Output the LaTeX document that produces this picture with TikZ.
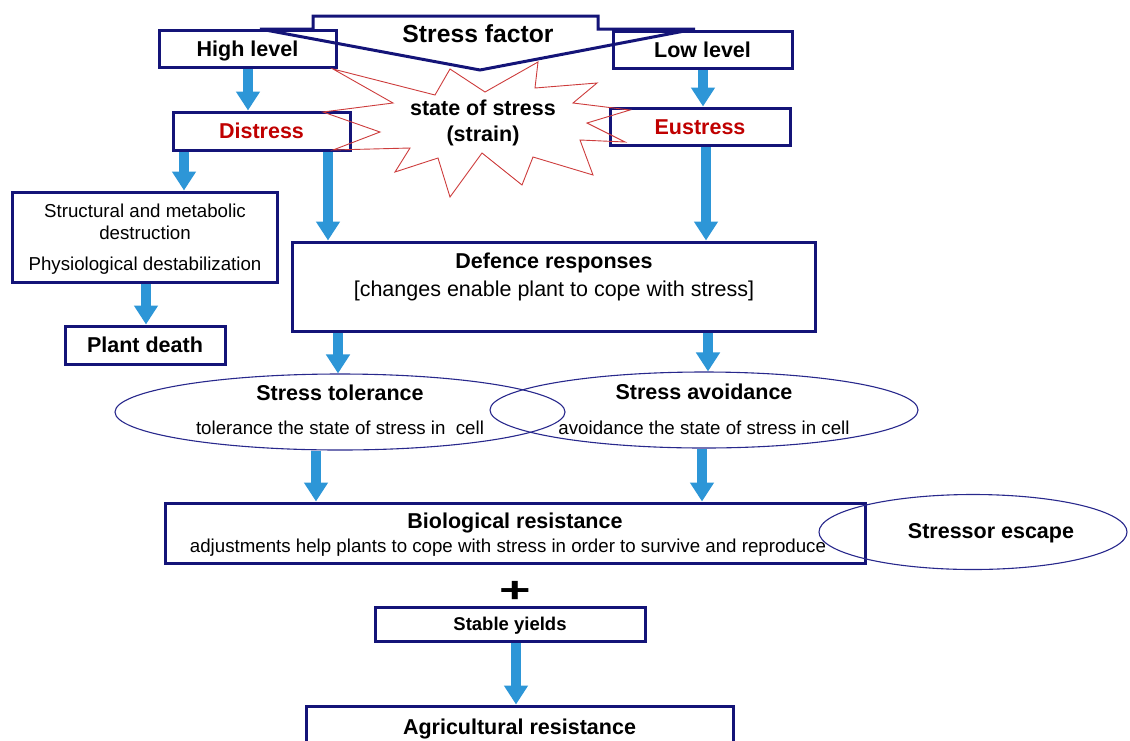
\documentclass[tikz,border=0pt]{standalone}
\usepackage{fontspec}
\setmainfont{Liberation Sans}
\usetikzlibrary{arrows.meta,shapes.geometric}
\pgfdeclarelayer{bg}
\pgfsetlayers{bg,main}
\definecolor{navy}{RGB}{20,20,120}
\definecolor{ablue}{RGB}{45,150,215}
\definecolor{dred}{RGB}{192,0,0}
\definecolor{sred}{RGB}{205,60,60}
\definecolor{ell}{RGB}{40,40,140}
\begin{document}
\begin{tikzpicture}[x=1pt,y=-1pt,
  box/.style={draw=navy, line width=3pt, fill=white, inner sep=0pt},
  bt/.style={font=\bfseries\fontsize{21.5}{24}\selectfont, text height=15.4pt, text depth=0pt, inner sep=0pt},
  rt/.style={font=\fontsize{18.7}{22}\selectfont, text height=13.4pt, text depth=0pt, inner sep=0pt},
  oval/.style={ellipse, draw=ell, line width=1.1pt, inner sep=0pt},
  barrow/.style={draw=ablue, line width=10pt, -{Triangle[length=19pt,width=23pt]}},
]
\useasboundingbox (0,0) rectangle (1130,740);

% boxes
\node[box, bt, minimum width=177pt, minimum height=37pt] (hl) at (247.5,49) {High level};
\node[box, bt, minimum width=179pt, minimum height=37pt] (ll) at (702.5,49.5) {Low level};
\node[box, bt, text=dred, minimum width=177pt, minimum height=38pt] (dis) at (261.5,131) {Distress};
\node[box, bt, text=dred, minimum width=180pt, minimum height=37pt] (eu) at (700,126.5) {Eustress};
\node[box, minimum width=265pt, minimum height=90pt] (str) at (144.5,237) {};
\node[rt] (str1) at (145,211) {Structural and metabolic};
\node[rt] (str2) at (145,233) {destruction};
\node[rt] (str3) at (145,264) {Physiological destabilization};
\node[box, bt, minimum width=160pt, minimum height=38pt] (pd) at (145,345) {Plant death};
\node[box, minimum width=523pt, minimum height=89pt] (def) at (553.5,286.5) {};
\node[bt] (def1) at (554,261) {Defence responses};
\node[rt, font=\fontsize{21.5}{24}\selectfont, text height=15.4pt] (def2) at (554,289) {[changes enable plant to cope with stress]};

% ellipses
\node[oval, minimum width=450pt, minimum height=76pt] (tol) at (340,412) {};
\node[bt] (tol1) at (340,393) {Stress tolerance};
\node[rt] (tol2) at (340,428) {tolerance the state of stress in~ cell};
\node[oval, minimum width=428pt, minimum height=76pt] (avo) at (704,410) {};
\node[bt] (avo1) at (704,392) {Stress avoidance};
\node[rt] (avo2) at (704,428) {avoidance the state of stress in cell};

\node[box, minimum width=700pt, minimum height=60pt] (bio) at (515,533) {};
\node[bt] (bio1) at (515,521) {Biological resistance};
\node[rt] (bio2) at (508,546) {adjustments help plants to cope with stress in order to survive and reproduce};
\node[oval, minimum width=308pt, minimum height=75pt] (esc) at (973,532) {};
\node[bt] (esc1) at (991,531) {Stressor escape};

\node[font=\bfseries\fontsize{36}{36}\selectfont, inner sep=0pt, anchor=base] (plus) at (515,602) {\scalebox{1.5}[1]{+}};
\node[box, font=\bfseries\fontsize{18.5}{22}\selectfont, text height=13.2pt, text depth=0pt, minimum width=270pt, minimum height=34pt] (sy) at (510,624) {Stable yields};
\node[box, bt, minimum width=427pt, minimum height=42pt] (ag) at (519.5,727) {Agricultural resistance};

% stress factor shape
\draw[navy, line width=3pt] (313,16) -- (598,16) -- (598,29) -- (695,29) -- (480,70) -- (260,29) -- (313,29) -- cycle;
\node[font=\bfseries\fontsize{24.7}{28}\selectfont, text height=17.7pt, text depth=0pt, inner sep=0pt] (sf) at (478,34) {Stress factor};

% star
\draw[sred, line width=0.9pt, line join=miter]
  (333,69) -- (435,95) -- (450,69) -- (485,92) -- (538,62) -- (535,88) -- (597,83) -- (573,103)
  -- (630,110) -- (587,123) -- (625,142) -- (580,140) -- (593,175) -- (533,157) -- (522,185)
  -- (482,153) -- (450,197) -- (438,158) -- (395,172) -- (410,148) -- (333,150) -- (380,132)
  -- (323,112) -- (393,103) -- cycle;
\node[bt, text height=15.4pt] (st1) at (483,108) {state of stress};
\node[bt] (st2) at (483,134) {(strain)};

% arrows
\begin{pgfonlayer}{bg}
\draw[barrow] (hl.south -| 248,0) -- (dis.north -| 248,0);
\draw[barrow] (ll.south -| 703,0) -- (eu.north -| 703,0);
\draw[barrow] (dis.south -| 184,0) -- (str.north -| 184,0);
\draw[barrow] (dis.south -| 328,0) -- (def.north -| 328,0);
\draw[barrow] (eu.south -| 706,0) -- (def.north -| 706,0);
\draw[barrow] (str.south -| 146,0) -- (pd.north -| 146,0);
\draw[barrow] (def.south -| 338,0) -- (tol.north -| 338,0);
\draw[barrow] (def.south -| 708,0) -- (avo.north -| 708,0);
\draw[barrow] (tol.south -| 316,0) -- (bio.north -| 316,0);
\draw[barrow] (avo.south -| 702,0) -- (bio.north -| 702,0);
\draw[barrow] (sy.south -| 516,0) -- (ag.north -| 516,0);
\end{pgfonlayer}
\end{tikzpicture}
\end{document}
